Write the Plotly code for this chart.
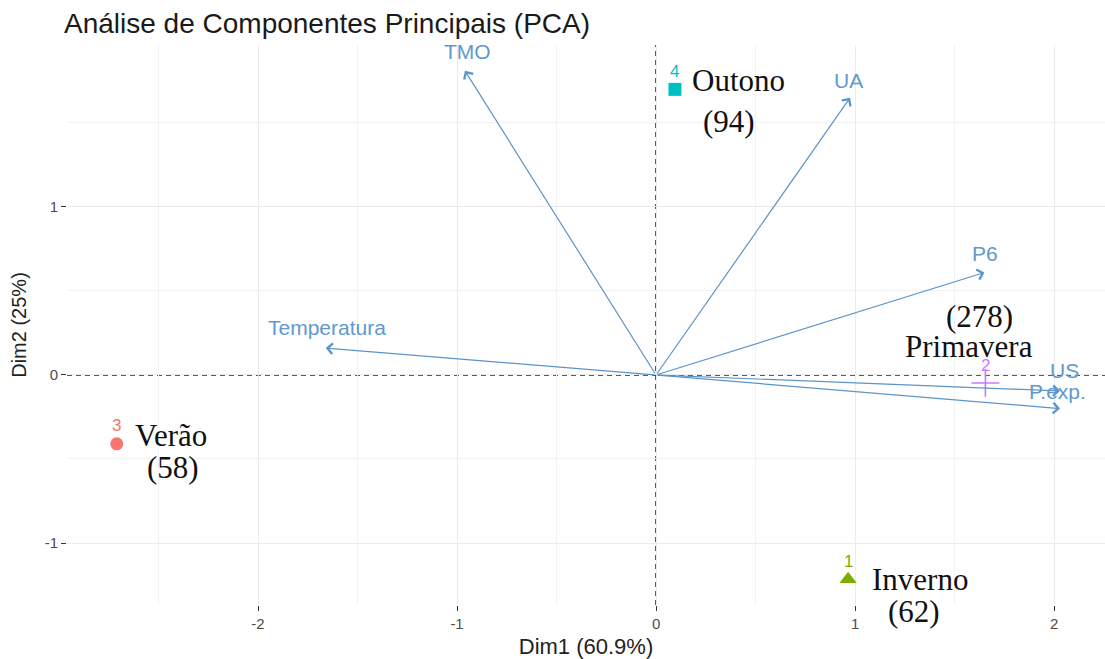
import plotly.graph_objects as go

# --- PCA results -----------------------------------------------------------
# Variable loadings (arrow tips) on the first two dimensions
variables = ["TMO", "UA", "P6", "Temperatura", "US", "P.exp."]
var_dim1 = [-0.96, 0.975, 1.65, -1.66, 2.03, 2.03]
var_dim2 = [1.81, 1.65, 0.61, 0.16, -0.095, -0.20]

# Group centroids (seasons)
group_ids = ["1", "2", "3", "4"]
seasons = ["Inverno", "Primavera", "Verão", "Outono"]
season_counts = [62, 278, 58, 94]
grp_dim1 = [0.965, 1.655, -2.71, 0.095]
grp_dim2 = [-1.215, -0.048, -0.41, 1.70]

x_ticks = [-2, -1, 0, 1, 2]
x_tick_text = ["-2", "-1", "0", "1", "2"]
y_ticks = [-1, 0, 1]
y_tick_text = ["-1", "0", "1"]

# --- styling ---------------------------------------------------------------
ARROW_COLOR = "#5B94C9"
LABEL_COLOR = "#6199CE"
SANS = "Liberation Sans, Arial, sans-serif"
SERIF = "Liberation Serif, Times New Roman, serif"

group_style = {
    "1": dict(color="#7CAE00", symbol="triangle-up", size=15, line=dict(width=0)),
    "2": dict(color="#C77CFF", symbol="cross-thin", size=20,
              line=dict(width=1.6, color="#C77CFF")),
    "3": dict(color="#F8766D", symbol="circle", size=13, line=dict(width=0)),
    "4": dict(color="#00BFC4", symbol="square", size=13, line=dict(width=0)),
}

# pixel offsets of the variable labels relative to the arrow tips
var_label_shift = {
    "TMO": (2, 19), "UA": (-2, 17), "P6": (1, 19), "Temperatura": (1, 21),
    "US": (4, 20), "P.exp.": (-3, 17),
}

# pixel offsets of the season name / count text relative to each centroid
season_name_shift = {
    "1": (22, 0), "2": (-16, 37), "3": (16, 8), "4": (15, 9),
}
season_count_shift = {
    "1": (66, -32), "2": (-6, 67), "3": (56, -24), "4": (54, -32),
}

fig = go.Figure()

# centroid markers
for gid, x, y in zip(group_ids, grp_dim1, grp_dim2):
    st = group_style[gid]
    fig.add_trace(go.Scatter(
        x=[x], y=[y], mode="markers", showlegend=False, hoverinfo="skip",
        marker=dict(color=st["color"], symbol=st["symbol"], size=st["size"],
                    line=st["line"]),
    ))

annotations = []

# variable arrows drawn from the origin
for name, x, y in zip(variables, var_dim1, var_dim2):
    annotations.append(dict(
        x=x, y=y, ax=0, ay=0, xref="x", yref="y", axref="x", ayref="y",
        text="", showarrow=True, arrowhead=4, arrowsize=1.7, arrowwidth=1.2,
        arrowcolor=ARROW_COLOR, standoff=0, startstandoff=0,
    ))

for name, x, y in zip(variables, var_dim1, var_dim2):
    dx, dy = var_label_shift[name]
    annotations.append(dict(
        x=x, y=y, xref="x", yref="y", text=name, showarrow=False,
        xshift=dx, yshift=dy, xanchor="center", yanchor="middle",
        font=dict(family=SANS, size=21, color=LABEL_COLOR),
    ))

# group id labels above the markers
for gid, x, y in zip(group_ids, grp_dim1, grp_dim2):
    annotations.append(dict(
        x=x, y=y, xref="x", yref="y", text=gid, showarrow=False,
        yshift=18, xanchor="center", yanchor="middle",
        font=dict(family=SANS, size=17, color=group_style[gid]["color"]),
    ))

# season names and sample counts
for gid, season, n, x, y in zip(group_ids, seasons, season_counts, grp_dim1, grp_dim2):
    dx, dy = season_name_shift[gid]
    annotations.append(dict(
        x=x, y=y, xref="x", yref="y", text=season, showarrow=False,
        xshift=dx, yshift=dy, xanchor="left" if gid != "2" else "center",
        yanchor="middle",
        font=dict(family=SERIF, size=31, color="#111111"),
    ))
    dx, dy = season_count_shift[gid]
    annotations.append(dict(
        x=x, y=y, xref="x", yref="y", text=f"({n})", showarrow=False,
        xshift=dx, yshift=dy, xanchor="center", yanchor="middle",
        font=dict(family=SERIF, size=31, color="#111111"),
    ))

# dashed reference lines through the origin
shapes = [
    dict(type="line", xref="x", yref="paper", x0=0, x1=0, y0=0, y1=1,
         line=dict(color="#262626", width=1.6, dash="5px,4px"), layer="below"),
    dict(type="line", xref="paper", yref="y", x0=0, x1=1, y0=0, y1=0,
         line=dict(color="#262626", width=1.6, dash="5px,4px"), layer="below"),
]

axis_common = dict(
    showgrid=True, gridcolor="#EBEBEB", gridwidth=1, zeroline=False,
    showline=False, ticks="outside", ticklen=5, tickwidth=1, tickcolor="#333333",
    tickfont=dict(family=SANS, size=15, color="#4D4D4D"),
    minor=dict(dtick=0.5, showgrid=True, gridcolor="#F2F2F2", gridwidth=1, ticks=""),
)

fig.update_layout(
    width=1105, height=659,
    margin=dict(l=67, r=0, t=45, b=54),
    paper_bgcolor="white", plot_bgcolor="white",
    title=dict(
        text="Análise de Componentes Principais (PCA)",
        x=64 / 1105, xref="container", xanchor="left",
        y=1 - 23 / 659, yref="container", yanchor="middle",
        font=dict(family=SANS, size=28, color="#1A1A1A"),
    ),
    xaxis=dict(
        range=[-2.96, 2.256], tickvals=x_ticks, ticktext=x_tick_text,
        title=dict(text="Dim1 (60.9%)", standoff=8,
                   font=dict(family=SANS, size=22, color="#222222")),
        **axis_common,
    ),
    yaxis=dict(
        range=[-1.369, 1.964], tickvals=y_ticks, ticktext=y_tick_text,
        title=dict(text="Dim2 (25%)", standoff=12,
                   font=dict(family=SANS, size=20, color="#222222")),
        **axis_common,
    ),
    annotations=annotations,
    shapes=shapes,
)

fig.write_html("out.html")
